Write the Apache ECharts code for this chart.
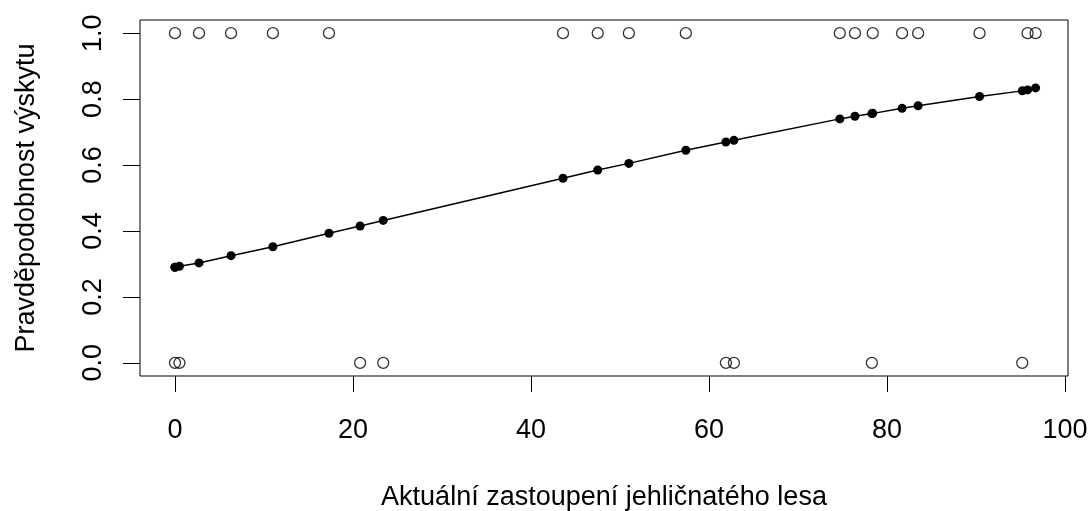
<!DOCTYPE html>
<html>
<head>
<meta charset="utf-8">
<script src="https://cdn.jsdelivr.net/npm/echarts@6/dist/echarts.min.js"></script>
<style>
  html, body { margin: 0; padding: 0; background: #fff; }
  #output { width: 1089px; height: 511px; }
</style>
</head>
<body>
<div id="output"></div>
<script>
const chart = echarts.init(document.getElementById('output'));

// aktuální zastoupení jehličnatého lesa (%)
const forestCover = [0, 0, 0.5, 2.7, 6.3, 11.0, 17.3, 20.8, 23.4, 43.6, 47.5, 51.0, 57.4,
  61.9, 62.8, 74.7, 76.4, 78.3, 78.4, 81.7, 83.5, 90.4, 95.2, 95.8, 96.7]
// pozorovaný výskyt (0/1)
const occurrence = [1, 0, 0, 1, 1, 1, 1, 0, 0, 1, 1, 1, 1,
  0, 0, 1, 1, 0, 1, 1, 1, 1, 0, 1, 1]
// predikovaná pravděpodobnost výskytu
const fitted = [0.290, 0.290, 0.293, 0.303, 0.325, 0.352, 0.393, 0.415, 0.432, 0.560, 0.585, 0.605, 0.645,
  0.670, 0.675, 0.740, 0.748, 0.756, 0.757, 0.772, 0.780, 0.808, 0.825, 0.828, 0.834]

const xTicks = [0, 20, 40, 60, 80, 100]
const yTicks = [0, 0.2, 0.4, 0.6, 0.8, 1.0]

const font = 'Liberation Sans, Arial, sans-serif'

const observed = forestCover.map((x, i) => [x, occurrence[i]])
const predicted = forestCover.map((x, i) => [x, fitted[i]])

chart.setOption({
  animation: false,
  grid: {
    left: 140,
    right: 21,
    top: 20,
    bottom: 135,
    outerBoundsMode: 'none',
    show: true,
    borderColor: '#000',
    borderWidth: 1
  },
  xAxis: {
    type: 'value',
    min: -3.93,
    max: 100.34,
    name: 'Aktuální zastoupení jehličnatého lesa',
    nameLocation: 'middle',
    nameGap: 108,
    nameMoveOverlap: false,
    nameTextStyle: { fontFamily: font, fontSize: 27, color: '#000' },
    axisLine: { show: false, onZero: false },
    axisTick: {
      show: true,
      customValues: xTicks,
      length: 16,
      lineStyle: { color: '#000', width: 1 }
    },
    axisLabel: {
      customValues: xTicks,
      margin: 41,
      fontFamily: font,
      fontSize: 27,
      color: '#000'
    },
    splitLine: { show: false }
  },
  yAxis: {
    type: 'value',
    min: -0.04,
    max: 1.04,
    name: 'Pravděpodobnost výskytu',
    nameLocation: 'middle',
    nameGap: 100,
    nameMoveOverlap: false,
    nameRotate: 90,
    nameTextStyle: { fontFamily: font, fontSize: 27, color: '#000' },
    axisLine: { show: false, onZero: false },
    axisTick: {
      show: true,
      customValues: yTicks,
      length: 17,
      lineStyle: { color: '#000', width: 1 }
    },
    axisLabel: {
      customValues: yTicks,
      rotate: 90,
      margin: 33,
      fontFamily: font,
      fontSize: 27,
      color: '#000',
      formatter: v => v.toFixed(1)
    },
    splitLine: { show: false }
  },
  series: [
    {
      type: 'scatter',
      data: observed,
      symbol: 'circle',
      symbolSize: 11,
      itemStyle: { color: 'rgba(0,0,0,0)', borderColor: '#000', borderWidth: 1.3 }
    },
    {
      type: 'line',
      data: predicted,
      symbol: 'circle',
      symbolSize: 9,
      showAllSymbol: true,
      lineStyle: { color: '#000', width: 1.5 },
      itemStyle: { color: '#000' }
    }
  ]
})
</script>
</body>
</html>
